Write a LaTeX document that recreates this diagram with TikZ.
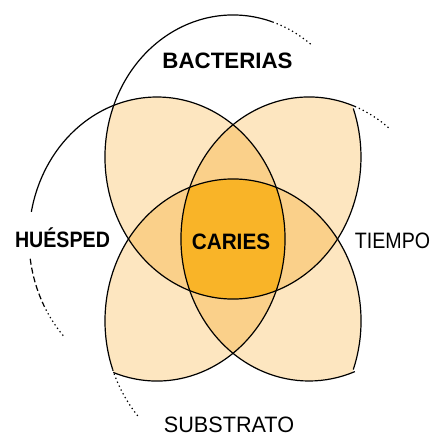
\documentclass[tikz,border=0pt]{standalone}
\usepackage{fontspec}
\setmainfont{Liberation Sans}
\definecolor{petal}{HTML}{FDE6C0}
\definecolor{lens}{HTML}{FAD08A}
\definecolor{core}{HTML}{F9B428}
\tikzset{
  lobe/.style={x radius=128pt, y radius=142pt},
  rim/.style={line width=1.2pt},
  fade/.style={line width=1.2pt, dash pattern=on 1.3pt off 3pt},
  brk/.style={line width=1.2pt, dash pattern=on 6pt off 3pt},
  lbl/.style={font=\fontsize{22.3}{24}\selectfont\bfseries, inner sep=0pt, anchor=base},
  plain/.style={font=\fontsize{22.3}{24}\selectfont, inner sep=0pt, anchor=base},
}

\begin{document}
\begin{tikzpicture}[x=1pt,y=1pt]
\useasboundingbox (-233,-198) rectangle (200,239);
% centres of the four lobes
\coordinate (T) at (0,82);
\coordinate (B) at (0,-82);
\coordinate (L) at (-76,0);
\coordinate (R) at (76,0);

% two lobes overlap
\begin{scope}
  \clip (T) ellipse[lobe];
  \fill[petal] (L) ellipse[lobe] (R) ellipse[lobe];
\end{scope}
\begin{scope}
  \clip (B) ellipse[lobe];
  \fill[petal] (L) ellipse[lobe] (R) ellipse[lobe];
\end{scope}
% three lobes
\begin{scope}
  \clip (L) ellipse[lobe]; \clip (R) ellipse[lobe];
  \fill[lens] (T) ellipse[lobe] (B) ellipse[lobe];
\end{scope}
\begin{scope}
  \clip (T) ellipse[lobe]; \clip (B) ellipse[lobe];
  \fill[lens] (L) ellipse[lobe] (R) ellipse[lobe];
\end{scope}
% all four
\begin{scope}
  \clip (T) ellipse[lobe]; \clip (B) ellipse[lobe]; \clip (L) ellipse[lobe];
  \fill[core] (R) ellipse[lobe];
\end{scope}

% outlines
\draw[rim] (T) ++(72:128pt and 142pt) arc[lobe, start angle=72, end angle=380];
\draw[fade] (T) ++(72:128pt and 142pt) arc[lobe, start angle=72, end angle=52];
\draw[rim] (L) ++(-110:128pt and 142pt) arc[lobe, start angle=-110, end angle=169];
\draw[brk] (L) ++(188:128pt and 142pt) arc[lobe, start angle=188, end angle=208];
\draw[fade] (L) ++(208:128pt and 142pt) arc[lobe, start angle=208, end angle=223];
\draw[rim] (R) ++(69:128pt and 142pt) arc[lobe, start angle=69, end angle=291];
\draw[fade] (R) ++(69:128pt and 142pt) arc[lobe, start angle=69, end angle=51];
\draw[rim] (B) ++(-20:128pt and 142pt) arc[lobe, start angle=-20, end angle=200];
\draw[fade] (B) ++(200:128pt and 142pt) arc[lobe, start angle=200, end angle=222];

% labels
\node[lbl] (bac) at (-5.5,171) {BACTERIAS};
\node[lbl, xscale=0.88, transform shape] (hue) at (-170.5,-8) {HUÉSPED};
\node[lbl, xscale=0.93, transform shape] (car) at (-2,-10) {CARIES};
\node[plain, xscale=0.88, transform shape] (tie) at (159.5,-9) {TIEMPO};
\node[plain, xscale=0.97, transform shape] (sub) at (-4,-193.5) {SUBSTRATO};
\end{tikzpicture}
\end{document}
